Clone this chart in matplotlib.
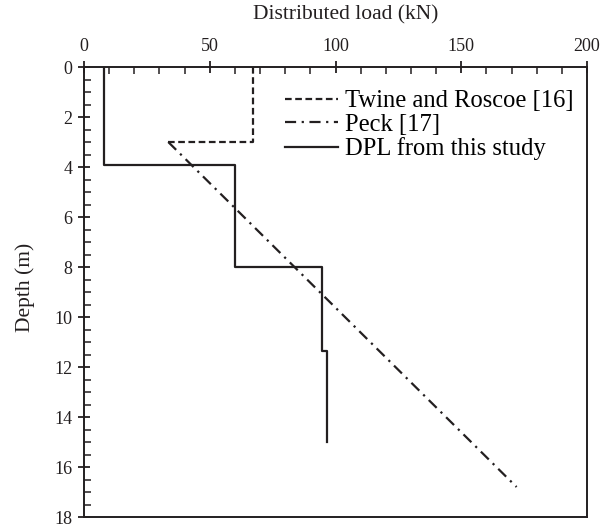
import matplotlib.pyplot as plt
from matplotlib.ticker import MultipleLocator

plt.rcParams["font.family"] = ["Liberation Serif", "DejaVu Serif"]

# Twine and Roscoe [16]
twine_load = [67, 67, 33.5]
twine_depth = [0, 3, 3]

# Peck [17]
peck_load = [33.5, 172]
peck_depth = [3, 16.8]

# DPL from this study
dpl_load = [8, 8, 60.2, 60.2, 94.7, 94.7, 96.8, 96.8]
dpl_depth = [0, 3.9, 3.9, 8, 8, 11.35, 11.35, 15]

INK = "#231f20"
W, H = 611, 526

fig = plt.figure(figsize=(W / 100, H / 100), dpi=100)
ax = fig.add_axes([84 / W, 1 - 517 / H, 503 / W, 450 / H])

ax.plot(twine_load, twine_depth, color=INK, lw=1.6, dashes=(3, 1.6),
        label="Twine and Roscoe [16]")
ax.plot(peck_load, peck_depth, color=INK, lw=1.6, dashes=(5, 2.5, 1, 2.5),
        label="Peck [17]")
ax.plot(dpl_load, dpl_depth, color=INK, lw=1.6, label="DPL from this study")

ax.set_xlim(0, 200)
ax.set_ylim(18, 0)
ax.xaxis.set_major_locator(MultipleLocator(50))
ax.xaxis.set_minor_locator(MultipleLocator(10))
ax.yaxis.set_major_locator(MultipleLocator(2))
ax.yaxis.set_minor_locator(MultipleLocator(0.5))
ax.xaxis.tick_top()
ax.xaxis.set_label_position("top")
ax.tick_params(which="major", direction="inout", length=9, width=1.3,
               labelsize=13, colors=INK, pad=4)
ax.tick_params(which="minor", direction="in", length=5, width=1.1, colors=INK)
ax.tick_params(axis="x", which="both", bottom=False, top=True)
ax.tick_params(axis="y", which="both", left=True, right=False)
for s in ax.spines.values():
    s.set_linewidth(1.4)
    s.set_color(INK)

ax.set_xlabel("Distributed load (kN)", fontsize=15.5, color=INK)
ax.set_ylabel("Depth (m)", fontsize=15.5, color=INK)
ax.xaxis.set_label_coords((346 - 84) / 503, 1 + (67 - 15) / 450, transform=ax.transAxes)
ax.yaxis.set_label_coords((25 - 84) / 503, (517 - 287) / 450, transform=ax.transAxes)
ax.xaxis.label.set_va("center")
ax.yaxis.label.set_va("center")

ax.legend(loc="upper left", bbox_to_anchor=(285 / W, 1 - 90 / H),
          bbox_transform=fig.transFigure, frameon=False, fontsize=17.7,
          handlelength=2.15, handletextpad=0.28, labelspacing=0.06,
          borderpad=0, borderaxespad=0)

fig.savefig("out.png", dpi=100)
